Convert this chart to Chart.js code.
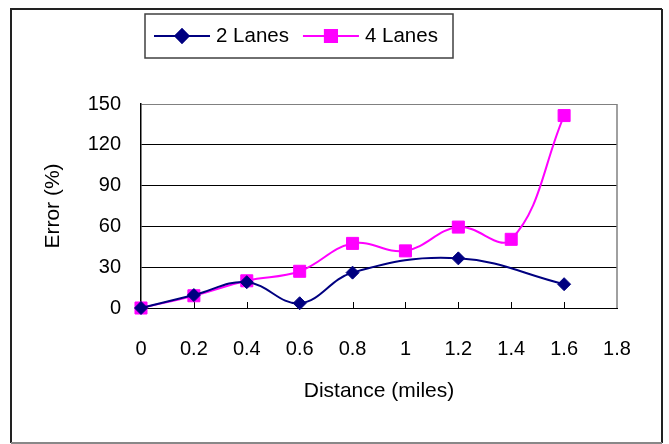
<!DOCTYPE html>
<html>
<head>
<meta charset="utf-8">
<script src="https://cdn.jsdelivr.net/npm/chart.js@4/dist/chart.umd.min.js"></script>
<style>
  html, body { margin: 0; padding: 0; background: #fff; }
  #wrap { width: 669px; height: 444px; }
</style>
</head>
<body>
<div id="wrap"><canvas id="c" width="669" height="444"></canvas></div>
<script>
// Tick positions for both axes
const distanceTicks = [0, 0.2, 0.4, 0.6, 0.8, 1.0, 1.2, 1.4, 1.6, 1.8];
const errorTicks = [0, 30, 60, 90, 120, 150];

// 2-lane roads: measured distances (miles) and error (%)
const twoLaneDistance = [0, 0.2, 0.4, 0.6, 0.8, 1.2, 1.6];
const twoLaneError = [0, 9.5, 19, 3.5, 26, 36.5, 17.5];

// 4-lane roads: measured distances (miles) and error (%)
const fourLaneDistance = [0, 0.2, 0.4, 0.6, 0.8, 1.0, 1.2, 1.4, 1.6];
const fourLaneError = [0, 9, 20, 27, 47.5, 42, 59.5, 50.5, 141.5];

const FONT = '"Liberation Sans", Arial, sans-serif';
const NAVY = '#000080';
const MAGENTA = '#FF00FF';

function toPoints(xs, ys) {
  return xs.map((x, i) => ({ x: x, y: ys[i] }));
}

// Inner tick marks on the distance axis and the grey right-hand frame
const frameTicks = {
  id: 'frameTicks',
  beforeDatasetsDraw(chart) {
    const { ctx, chartArea } = chart;
    const xs = chart.scales.x;
    ctx.save();
    ctx.strokeStyle = '#808080';
    ctx.lineWidth = 1.5;
    ctx.beginPath();
    ctx.moveTo(chartArea.right, chartArea.top);
    ctx.lineTo(chartArea.right, chartArea.bottom);
    ctx.stroke();
    ctx.strokeStyle = '#000';
    ctx.lineWidth = 1;
    distanceTicks.forEach(v => {
      if (v === 0 || v === 1.8) return;
      const px = Math.round(xs.getPixelForValue(v)) + 0.5;
      ctx.beginPath();
      ctx.moveTo(px, chartArea.bottom);
      ctx.lineTo(px, chartArea.bottom - 6);
      ctx.stroke();
    });
    ctx.restore();
  }
};

// Boxed legend with a line-and-marker sample for each series
const boxedLegend = {
  id: 'boxedLegend',
  afterDraw(chart) {
    const { ctx } = chart;
    const box = { left: 145, top: 14, right: 453, bottom: 58 };
    const cy = 36;
    ctx.save();
    ctx.fillStyle = '#fff';
    ctx.fillRect(box.left, box.top, box.right - box.left, box.bottom - box.top);
    ctx.strokeStyle = '#404040';
    ctx.lineWidth = 1.5;
    ctx.strokeRect(box.left, box.top, box.right - box.left, box.bottom - box.top);
    ctx.font = '20.5px ' + FONT;
    ctx.textBaseline = 'middle';
    ctx.fillStyle = '#000';
    let x = 154;
    chart.data.datasets.forEach(ds => {
      ctx.strokeStyle = ds.borderColor;
      ctx.lineWidth = 2;
      ctx.beginPath();
      ctx.moveTo(x, cy);
      ctx.lineTo(x + 56, cy);
      ctx.stroke();
      Chart.helpers.drawPoint(ctx, {
        pointStyle: ds.pointStyle,
        radius: ds.pointRadius,
        borderWidth: 1,
        rotation: 0
      }, x + 28, cy);
      ctx.fillStyle = ds.pointBackgroundColor;
      ctx.strokeStyle = ds.borderColor;
      ctx.fill();
      ctx.stroke();
      ctx.fillStyle = '#000';
      ctx.fillText(ds.label, x + 62, cy);
      x += 62 + ctx.measureText(ds.label).width + 14;
    });
    ctx.restore();
  }
};

// Outer chart frame
const outerFrame = {
  id: 'outerFrame',
  afterDraw(chart) {
    const { ctx } = chart;
    ctx.save();
    ctx.lineWidth = 2;
    ctx.strokeStyle = '#222';
    ctx.beginPath();
    ctx.moveTo(11, 443); ctx.lineTo(11, 9); ctx.lineTo(662, 9);
    ctx.stroke();
    ctx.beginPath();
    ctx.moveTo(662, 9); ctx.lineTo(662, 443);
    ctx.stroke();
    ctx.strokeStyle = '#888';
    ctx.beginPath();
    ctx.moveTo(11, 443); ctx.lineTo(662, 443);
    ctx.stroke();
    ctx.restore();
  }
};

new Chart(document.getElementById('c'), {
  type: 'line',
  data: {
    datasets: [
      {
        label: '2 Lanes',
        data: toPoints(twoLaneDistance, twoLaneError),
        borderColor: NAVY,
        backgroundColor: NAVY,
        pointBackgroundColor: NAVY,
        pointBorderColor: NAVY,
        pointStyle: 'rectRot',
        pointRadius: 6.5,
        pointBorderWidth: 1,
        borderWidth: 2,
        tension: 0.4,
        fill: false,
        clip: false
      },
      {
        label: '4 Lanes',
        data: toPoints(fourLaneDistance, fourLaneError),
        borderColor: MAGENTA,
        backgroundColor: MAGENTA,
        pointBackgroundColor: MAGENTA,
        pointBorderColor: MAGENTA,
        pointStyle: 'rect',
        pointRadius: 8.5,
        pointBorderWidth: 1,
        borderWidth: 2,
        tension: 0.4,
        fill: false,
        clip: false
      }
    ]
  },
  options: {
    responsive: false,
    animation: false,
    events: [],
    layout: { padding: { top: 104, left: 0, right: 52, bottom: 0 } },
    plugins: {
      legend: { display: false },
      tooltip: { enabled: false },
      title: { display: false }
    },
    scales: {
      x: {
        type: 'linear',
        min: 0,
        max: 1.8,
        afterBuildTicks(scale) { scale.ticks = distanceTicks.map(v => ({ value: v })); },
        afterFit(scale) { scale.height = 136; },
        ticks: {
          autoSkip: false,
          maxRotation: 0,
          padding: 29,
          color: '#000',
          font: { family: FONT, size: 20 },
          callback: v => String(Math.round(v * 10) / 10)
        },
        grid: { drawOnChartArea: false, drawTicks: false },
        border: { display: true, color: '#000', width: 1 },
        title: {
          display: true,
          text: 'Distance (miles)',
          color: '#000',
          font: { family: FONT, size: 21 },
          padding: { top: 0, bottom: 40 }
        }
      },
      y: {
        min: 0,
        max: 150,
        afterBuildTicks(scale) { scale.ticks = errorTicks.map(v => ({ value: v })); },
        afterFit(scale) { scale.width = 141; },
        ticks: {
          padding: 20,
          color: '#000',
          font: { family: FONT, size: 20 }
        },
        grid: {
          drawTicks: false,
          lineWidth: 1,
          color: c => (c.tick && c.tick.value === 150) ? '#808080' : '#000'
        },
        border: { display: true, color: '#000', width: 1.5 },
        title: {
          display: true,
          text: 'Error (%)',
          color: '#000',
          font: { family: FONT, size: 21 },
          padding: { top: 41, bottom: 0 }
        }
      }
    }
  },
  plugins: [frameTicks, boxedLegend, outerFrame]
});
</script>
</body>
</html>
